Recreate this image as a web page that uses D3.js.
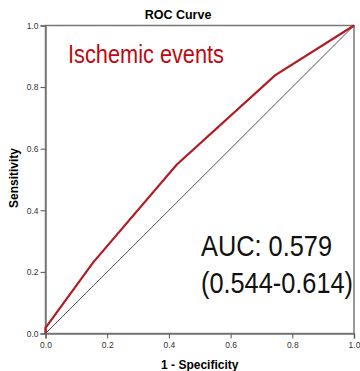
<!DOCTYPE html>
<html>
<head>
<meta charset="utf-8">
<script src="https://cdn.jsdelivr.net/npm/d3@7"></script>
<style>
  body { margin: 0; background: #fff; }
  text { font-family: "Liberation Sans", Arial, sans-serif; }
</style>
</head>
<body>
<div id="chart"></div>
<script>
// ROC points
var fpr = [0, 0, 0.154, 0.425, 0.744, 1];
var tpr = [0, 0.018, 0.23, 0.548, 0.838, 1];
var tickValues = [0, 0.2, 0.4, 0.6, 0.8, 1.0];
var chartTitle = "ROC Curve";
var outcomeLabel = "Ischemic events";
var aucLines = ["AUC: 0.579", "(0.544-0.614)"];

var svgWidth = 360;
var svgHeight = 371;
var margin = { top: 25.5, right: 6, bottom: 37.5, left: 45.5 };
var width = svgWidth - margin.left - margin.right;
var height = svgHeight - margin.top - margin.bottom;

var svg = d3.select("#chart").append("svg")
  .attr("width", svgWidth)
  .attr("height", svgHeight);

var g = svg.append("g")
  .attr("transform", `translate(${margin.left}, ${margin.top})`);

var x = d3.scaleLinear().domain([0, 1]).range([0, width]);
var y = d3.scaleLinear().domain([0, 1]).range([height, 0]);

// frame
g.append("rect")
  .attr("width", width).attr("height", height)
  .attr("fill", "none").attr("stroke", "#777").attr("stroke-width", 1.5);

// axes
var xAxis = g.append("g")
  .attr("transform", `translate(0, ${height})`)
  .call(d3.axisBottom(x).tickValues(tickValues).tickFormat(d3.format(".1f")).tickSize(5).tickPadding(3));
var yAxis = g.append("g")
  .call(d3.axisLeft(y).tickValues(tickValues).tickFormat(d3.format(".1f")).tickSize(5).tickPadding(2));
[xAxis, yAxis].forEach(function(a) {
  a.select(".domain").attr("stroke", "#777").attr("stroke-width", 1.5);
  a.selectAll(".tick line").attr("stroke", "#555");
  a.selectAll(".tick text").attr("fill", "#333")
    .style("font-family", "'Liberation Sans', Arial, sans-serif").style("font-size", "8.5px");
});

// reference diagonal
g.append("line")
  .attr("x1", x(0)).attr("y1", y(0)).attr("x2", x(1)).attr("y2", y(1))
  .attr("stroke", "#555").attr("stroke-width", 1);

// ROC curve
var rocData = fpr.map(function(d, i) { return { fpr: d, tpr: tpr[i] }; });
g.append("path")
  .datum(rocData)
  .attr("fill", "none")
  .attr("stroke", "#b01c22")
  .attr("stroke-width", 2.2)
  .attr("d", d3.line().x(d => x(d.fpr)).y(d => y(d.tpr)));

// title and axis labels
svg.append("text")
  .attr("x", 178).attr("y", 19)
  .attr("text-anchor", "middle")
  .style("font-size", "12.5px").style("font-weight", "bold")
  .text(chartTitle);

svg.append("text")
  .attr("x", margin.left + width / 2).attr("y", 369)
  .attr("text-anchor", "middle")
  .style("font-size", "12px").style("font-weight", "bold")
  .text("1 - Specificity");

svg.append("text")
  .attr("transform", "translate(18, 178) rotate(-90)")
  .attr("text-anchor", "middle")
  .style("font-size", "12px").style("font-weight", "bold")
  .text("Sensitivity");

// annotations
svg.append("text")
  .attr("x", 68).attr("y", 63)
  .attr("fill", "#c0080f")
  .attr("textLength", 156).attr("lengthAdjust", "spacingAndGlyphs")
  .style("font-size", "25px")
  .text(outcomeLabel);

svg.append("text")
  .attr("x", 201).attr("y", 256)
  .attr("fill", "#111")
  .attr("textLength", 131).attr("lengthAdjust", "spacingAndGlyphs")
  .style("font-size", "30px")
  .text(aucLines[0]);

svg.append("text")
  .attr("x", 201).attr("y", 293)
  .attr("fill", "#111")
  .attr("textLength", 152).attr("lengthAdjust", "spacingAndGlyphs")
  .style("font-size", "30px")
  .text(aucLines[1]);
</script>
</body>
</html>
